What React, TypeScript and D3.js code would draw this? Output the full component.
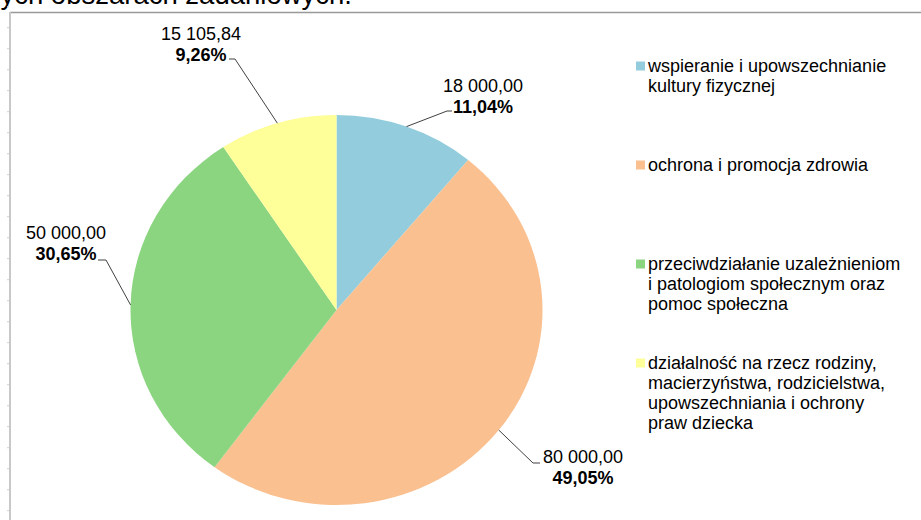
import { useEffect, useRef } from "react"
import * as d3 from "d3"

// slices, clockwise from 12 o'clock
const categories = [
  "wspieranie i upowszechnianie kultury fizycznej",
  "ochrona i promocja zdrowia",
  "przeciwdziałanie uzależnieniom i patologiom społecznym oraz pomoc społeczna",
  "działalność na rzecz rodziny, macierzyństwa, rodzicielstwa, upowszechniania i ochrony praw dziecka",
]
const values = [18000, 80000, 50000, 15105.84]
const valueLabels = ["18 000,00", "80 000,00", "50 000,00", "15 105,84"]
const percentLabels = ["11,04%", "49,05%", "30,65%", "9,26%"]
const legendLines = [
  ["wspieranie i upowszechnianie", "kultury fizycznej"],
  ["ochrona i promocja zdrowia"],
  ["przeciwdziałanie uzależnieniom", "i patologiom społecznym oraz", "pomoc społeczna"],
  ["działalność na rzecz rodziny,", "macierzyństwa, rodzicielstwa,", "upowszechniania i ochrony", "praw dziecka"],
]
const colors = ["#93CDDD", "#FAC090", "#8BD580", "#FFFF99"]

// where each data label sits (leader elbow, stub end, text centre, first baseline)
const labelLayout = [
  { ax: 447, ay: 111, sx: 452, cx: 483, by: 92 },
  { ax: 533, ay: 463, sx: 540, cx: 583, by: 463 },
  { ax: 106, ay: 260, sx: 98, cx: 66, by: 239 },
  { ax: 235, ay: 59, sx: 229, cx: 201, by: 40 },
]
const legendTops = [66, 165, 264, 363]

const W = 921
const H = 520
const FONT = "'Liberation Sans', Arial, sans-serif"

export default function App() {
  const svgRef = useRef<SVGSVGElement>(null)

  useEffect(() => {
    document.body.style.margin = "0"
    const svg = d3.select(svgRef.current)
    svg.selectAll("*").remove()

    // cut-off title above the chart area
    svg
      .append("text")
      .attr("x", 352)
      .attr("y", 4)
      .attr("text-anchor", "end")
      .attr("font-family", FONT)
      .attr("font-size", 27.5)
      .attr("fill", "#000")
      .text("ych obszarach zadaniowych.")

    // frame
    svg.append("line").attr("x1", 10).attr("x2", W).attr("y1", 12.5).attr("y2", 12.5).attr("stroke", "#999").attr("stroke-width", 1.5)
    svg.append("line").attr("x1", 10).attr("x2", 10).attr("y1", 12).attr("y2", H).attr("stroke", "#c8c8c8").attr("stroke-width", 2)
    d3.range(6.7, H, 21).forEach((y) => {
      svg.append("line").attr("x1", 7).attr("x2", 9).attr("y1", y).attr("y2", y).attr("stroke", "#d0d0d0")
    })

    // the pie is slightly squashed vertically in the original
    const cx = 336.5
    const cy = 310
    const r = 206
    const ky = 195 / 206

    const pie = d3
      .pie<number>()
      .value((d) => d)
      .sort(null)
    const arcs = pie(values)
    const arc = d3.arc<d3.PieArcDatum<number>>().innerRadius(0).outerRadius(r)
    const edge = d3.arc<d3.PieArcDatum<number>>().innerRadius(r).outerRadius(r)

    const g = svg.append("g").attr("transform", `translate(${cx},${cy}) scale(1,${ky})`)
    g.selectAll("path")
      .data(arcs)
      .enter()
      .append("path")
      .attr("d", arc)
      .attr("fill", (_, i) => colors[i])

    // leader lines + labels
    arcs.forEach((a, i) => {
      const [ex, ey] = edge.centroid(a)
      const L = labelLayout[i]
      svg
        .append("polyline")
        .attr("points", `${cx + ex},${cy + ey * ky} ${L.ax},${L.ay} ${L.sx},${L.ay}`)
        .attr("fill", "none")
        .attr("stroke", "#404040")
        .attr("stroke-width", 1)
      svg
        .append("text")
        .attr("x", L.cx)
        .attr("y", L.by)
        .attr("text-anchor", "middle")
        .attr("font-family", FONT)
        .attr("font-size", 18)
        .attr("fill", "#000")
        .text(valueLabels[i])
      svg
        .append("text")
        .attr("x", L.cx)
        .attr("y", L.by + 21)
        .attr("text-anchor", "middle")
        .attr("font-family", FONT)
        .attr("font-size", 18)
        .attr("font-weight", "bold")
        .attr("fill", "#000")
        .text(percentLabels[i])
    })

    // legend
    const lg = svg.append("g").attr("font-family", FONT).attr("font-size", 18)
    categories.forEach((_, i) => {
      const top = legendTops[i]
      lg.append("rect")
        .attr("x", 636)
        .attr("y", top - 4.5)
        .attr("width", 9)
        .attr("height", 9)
        .attr("fill", colors[i])
      legendLines[i].forEach((line, j) => {
        lg.append("text")
          .attr("x", 648)
          .attr("y", top + j * 20 + 6)
          .attr("fill", "#000")
          .text(line)
      })
    })
  }, [])

  return (
    <svg
      ref={svgRef}
      width={W}
      height={H}
      style={{ display: "block", position: "absolute", left: 0, top: 0, background: "#fff" }}
    />
  )
}
